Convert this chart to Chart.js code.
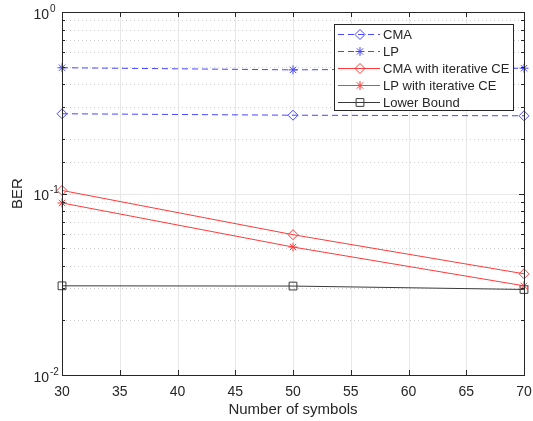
<!DOCTYPE html>
<html><head><meta charset="utf-8">
<script src="https://cdn.jsdelivr.net/npm/chart.js@4/dist/chart.umd.min.js"></script>
<style>html,body{margin:0;padding:0;background:#fff;overflow:hidden;} #wrap{width:533px;height:421px;}</style>
</head><body><div id="wrap"><canvas id="c" width="533" height="421"></canvas></div>
<script>
const symbols = [30, 50, 70];
const cma = [0.275, 0.270, 0.268];
const lp = [0.493, 0.480, 0.490];
const cmaIter = [0.104, 0.0593, 0.0361];
const lpIter = [0.0887, 0.0507, 0.0310];
const lowerBound = [0.0310, 0.0309, 0.0296];
const seriesNames = ['CMA', 'LP', 'CMA with iterative CE', 'LP with iterative CE', 'Lower Bound'];
const xTicks = [30, 35, 40, 45, 50, 55, 60, 65, 70];
const yDecades = [0.01, 0.1, 1];
const yExponents = ['-2', '-1', '0'];
const xTitle = 'Number of symbols';
const yTitle = 'BER';

const BLUE = '#4646ff', RED = '#ff3a3a', DARK = '#3a3a3a', AX = '#262626';
const FONT = '"Liberation Sans", Arial, sans-serif';

function pts(ys) { return symbols.map((x, i) => ({ x: x, y: ys[i] })); }

const styles = [
  { color: BLUE, dash: [6, 4], marker: 'rectRot', r: 5 },
  { color: BLUE, dash: [6, 4], marker: 'star', r: 4.5 },
  { color: RED, dash: [], marker: 'rectRot', r: 5 },
  { color: RED, dash: [], marker: 'star', r: 4.5 },
  { color: DARK, dash: [], marker: 'rect', r: 5.5 }
];
const seriesData = [cma, lp, cmaIter, lpIter, lowerBound];

const datasets = seriesData.map((d, i) => ({
  label: seriesNames[i],
  data: pts(d),
  borderColor: styles[i].color,
  borderWidth: 1,
  borderDash: styles[i].dash,
  pointStyle: styles[i].marker,
  pointRadius: styles[i].r,
  pointBorderColor: styles[i].color,
  pointBackgroundColor: 'rgba(0,0,0,0)',
  pointBorderWidth: 1,
  fill: false,
  tension: 0,
  clip: false
}));

function px(v) { return Math.round(v) + 0.5; }

function drawMarker(ctx, type, x, y, r) {
  ctx.beginPath();
  if (type === 'rectRot') {
    ctx.moveTo(x, y - r); ctx.lineTo(x + r, y); ctx.lineTo(x, y + r); ctx.lineTo(x - r, y); ctx.closePath();
  } else if (type === 'star') {
    const d = r * Math.SQRT1_2;
    ctx.moveTo(x - r, y); ctx.lineTo(x + r, y);
    ctx.moveTo(x, y - r); ctx.lineTo(x, y + r);
    ctx.moveTo(x - d, y - d); ctx.lineTo(x + d, y + d);
    ctx.moveTo(x - d, y + d); ctx.lineTo(x + d, y - d);
  } else if (type === 'rect') {
    const s = r * Math.SQRT1_2;
    ctx.rect(x - s, y - s, 2 * s, 2 * s);
  }
  ctx.stroke();
}

const matlabPlugin = {
  id: 'matlabAxes',
  beforeDatasetsDraw(chart) {
    const ctx = chart.ctx, a = chart.chartArea;
    const xs = chart.scales.x, ys = chart.scales.y;
    ctx.save();
    ctx.lineWidth = 1;
    // x grid
    ctx.strokeStyle = '#e8e8e8';
    ctx.setLineDash([]);
    xTicks.forEach(v => {
      const x = px(xs.getPixelForValue(v));
      ctx.beginPath(); ctx.moveTo(x, a.top); ctx.lineTo(x, a.bottom); ctx.stroke();
    });
    // y grid
    ys.ticks.forEach(t => {
      const v = t.value;
      const isDec = yDecades.some(d => Math.abs(d - v) / d < 1e-6);
      const y = px(ys.getPixelForValue(v));
      if (isDec) { ctx.strokeStyle = '#e8e8e8'; ctx.setLineDash([]); }
      else { ctx.strokeStyle = '#cfcfcf'; ctx.setLineDash([1, 3]); }
      ctx.beginPath(); ctx.moveTo(a.left, y); ctx.lineTo(a.right, y); ctx.stroke();
    });
    ctx.restore();
  },
  afterDatasetsDraw(chart) {
    const ctx = chart.ctx, a = chart.chartArea;
    const xs = chart.scales.x, ys = chart.scales.y;
    ctx.save();
    ctx.lineWidth = 1;
    ctx.setLineDash([]);
    ctx.strokeStyle = AX;
    // box
    ctx.strokeRect(px(a.left), px(a.top), Math.round(a.right) - Math.round(a.left), Math.round(a.bottom) - Math.round(a.top));
    // x ticks inward
    xTicks.forEach(v => {
      const x = px(xs.getPixelForValue(v));
      ctx.beginPath();
      ctx.moveTo(x, a.bottom); ctx.lineTo(x, a.bottom - 5);
      ctx.moveTo(x, a.top); ctx.lineTo(x, a.top + 5);
      ctx.stroke();
    });
    // y ticks inward
    ys.ticks.forEach(t => {
      const v = t.value;
      const isDec = yDecades.some(d => Math.abs(d - v) / d < 1e-6);
      const L = isDec ? 5 : 3;
      const y = px(ys.getPixelForValue(v));
      ctx.beginPath();
      ctx.moveTo(a.left, y); ctx.lineTo(a.left + L, y);
      ctx.moveTo(a.right, y); ctx.lineTo(a.right - L, y);
      ctx.stroke();
    });
    // x tick labels
    ctx.fillStyle = AX;
    ctx.font = '14px ' + FONT;
    ctx.textAlign = 'center';
    ctx.textBaseline = 'middle';
    xTicks.forEach(v => {
      ctx.fillText(String(v), xs.getPixelForValue(v), a.bottom + 17);
    });
    // y tick labels 10^k
    yDecades.forEach((d, i) => {
      const y = ys.getPixelForValue(d);
      ctx.font = '14px ' + FONT;
      ctx.textAlign = 'right';
      ctx.textBaseline = 'middle';
      ctx.fillText('10', a.left - 13, y + 3);
      ctx.font = '10px ' + FONT;
      ctx.textAlign = 'left';
      ctx.fillText(yExponents[i], a.left - 12, y - 3);
    });
    // axis titles
    ctx.font = '15px ' + FONT;
    ctx.textAlign = 'center';
    ctx.textBaseline = 'middle';
    ctx.fillText(xTitle, (a.left + a.right) / 2, a.bottom + 35);
    ctx.save();
    ctx.translate(18, (a.top + a.bottom) / 2);
    ctx.rotate(-Math.PI / 2);
    ctx.fillText(yTitle, 0, 0);
    ctx.restore();
    // legend
    const lx = 334, ly = 24, lw = 179, lh = 86;
    ctx.fillStyle = '#ffffff';
    ctx.fillRect(lx, ly, lw, lh);
    ctx.strokeStyle = AX;
    ctx.strokeRect(lx + 0.5, ly + 0.5, lw, lh);
    ctx.font = '13px ' + FONT;
    ctx.textAlign = 'left';
    ctx.textBaseline = 'middle';
    seriesNames.forEach((name, i) => {
      const y = ly + 10 + i * 17;
      const st = styles[i];
      ctx.strokeStyle = st.color;
      ctx.setLineDash(st.dash);
      ctx.beginPath(); ctx.moveTo(338, px(y)); ctx.lineTo(380, px(y)); ctx.stroke();
      ctx.setLineDash([]);
      drawMarker(ctx, st.marker, 360, y + 0.5, st.r);
      ctx.fillStyle = AX;
      ctx.fillText(name, 383, y + 1);
    });
    ctx.restore();
  }
};

new Chart(document.getElementById('c'), {
  type: 'line',
  data: { datasets: datasets },
  options: {
    responsive: false,
    devicePixelRatio: 1,
    animation: false,
    layout: { padding: { left: 0, right: 9, top: 12, bottom: 0 } },
    plugins: { legend: { display: false }, tooltip: { enabled: false } },
    scales: {
      x: {
        type: 'linear', min: 30, max: 70,
        ticks: { display: false, stepSize: 5 },
        grid: { display: false }, border: { display: false },
        afterFit(s) { s.height = 46; }
      },
      y: {
        type: 'logarithmic', min: 0.01, max: 1,
        ticks: { display: false },
        grid: { display: false }, border: { display: false },
        afterFit(s) { s.width = 62; }
      }
    }
  },
  plugins: [matlabPlugin]
});
</script></body></html>
